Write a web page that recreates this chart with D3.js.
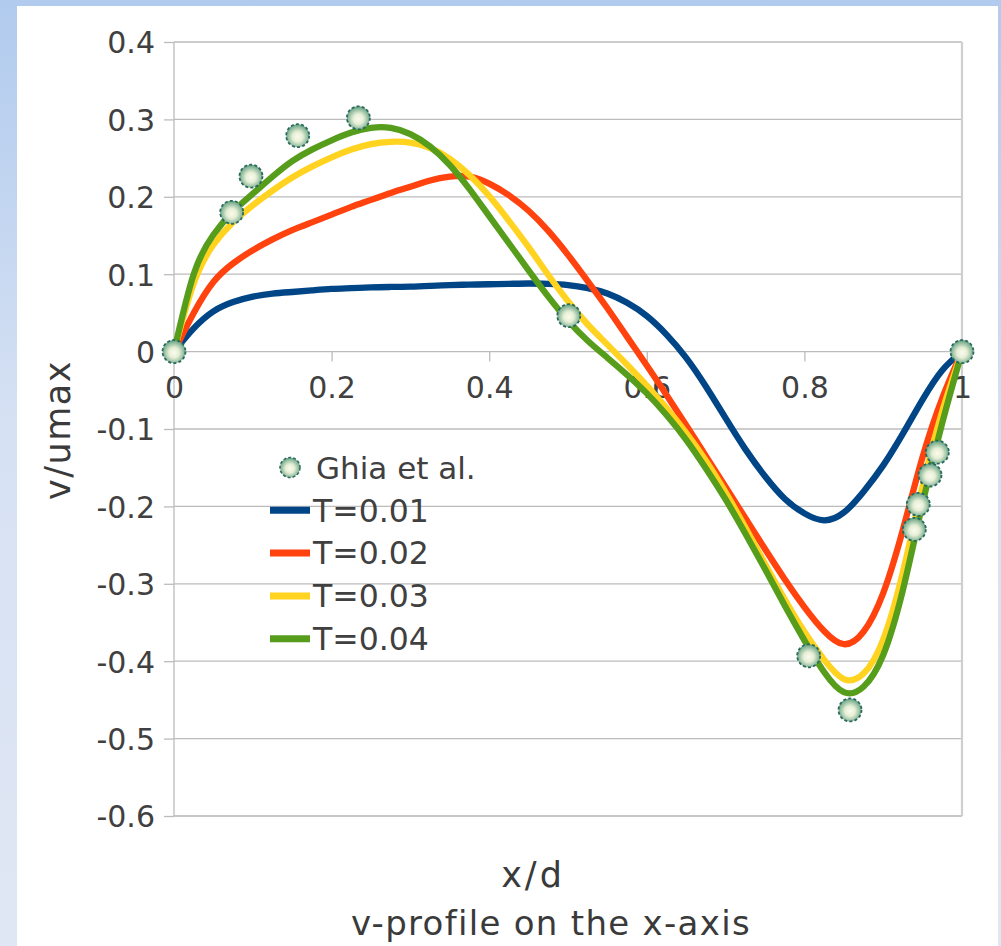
<!DOCTYPE html>
<html>
<head>
<meta charset="utf-8">
<script src="https://cdn.jsdelivr.net/npm/d3@7"></script>
<style>
  html, body { margin: 0; padding: 0; background: #ffffff; }
  svg { display: block; }
  text { font-family: "DejaVu Sans", Verdana, sans-serif; }
</style>
</head>
<body>
<svg id="chart" width="1001" height="946"></svg>
<script>
// ---------------- data ----------------
const yTicks = [0.4, 0.3, 0.2, 0.1, 0, -0.1, -0.2, -0.3, -0.4, -0.5, -0.6];
const yTickLabels = ["0.4", "0.3", "0.2", "0.1", "0", "-0.1", "-0.2", "-0.3", "-0.4", "-0.5", "-0.6"];
const xTicks = [0, 0.2, 0.4, 0.6, 0.8, 1];
const xTickLabels = ["0", "0.2", "0.4", "0.6", "0.8", "1"];

const seriesNames = ["T=0.01", "T=0.02", "T=0.03", "T=0.04"];
const seriesColors = ["#004586", "#ff420e", "#ffd320", "#579d1c"];

// x positions of the simulated profiles (x/d), every 0.025
const xSim = [0, 0.025, 0.05, 0.075, 0.1, 0.125, 0.15, 0.175, 0.2, 0.225, 0.25, 0.275, 0.3, 0.325, 0.35, 0.375, 0.4, 0.425, 0.45, 0.475, 0.5,
              0.525, 0.55, 0.575, 0.6, 0.625, 0.65, 0.675, 0.7, 0.725, 0.75, 0.775, 0.8, 0.825, 0.85, 0.875, 0.9, 0.925, 0.95, 0.975, 1];
const vT01 = [0, 0.030, 0.052, 0.064, 0.071, 0.075, 0.077, 0.079, 0.081, 0.082, 0.083, 0.0835, 0.084, 0.085, 0.086, 0.0865, 0.087, 0.0875, 0.088, 0.0875, 0.086,
              0.082, 0.075, 0.063, 0.046, 0.022, -0.008, -0.045, -0.086, -0.126, -0.161, -0.190, -0.209, -0.218, -0.208, -0.181, -0.147, -0.106, -0.062, -0.024, 0];
const vT02 = [0, 0.050, 0.090, 0.114, 0.131, 0.145, 0.157, 0.167, 0.177, 0.187, 0.196, 0.205, 0.213, 0.221, 0.226, 0.226, 0.217, 0.202, 0.182, 0.156, 0.125,
              0.091, 0.056, 0.019, -0.018, -0.056, -0.095, -0.135, -0.175, -0.215, -0.255, -0.294, -0.330, -0.361, -0.378, -0.362, -0.312, -0.230, -0.136, -0.060, 0];
const vT03 = [0, 0.088, 0.138, 0.167, 0.189, 0.208, 0.225, 0.239, 0.251, 0.261, 0.268, 0.271, 0.270, 0.263, 0.249, 0.228, 0.201, 0.169, 0.135, 0.099, 0.065,
              0.035, 0.009, -0.017, -0.044, -0.073, -0.105, -0.141, -0.182, -0.227, -0.274, -0.320, -0.362, -0.398, -0.423, -0.416, -0.372, -0.285, -0.174, -0.077, 0];
const vT04 = [0, 0.100, 0.151, 0.181, 0.204, 0.226, 0.246, 0.261, 0.273, 0.283, 0.289, 0.289, 0.281, 0.265, 0.241, 0.210, 0.175, 0.140, 0.105, 0.071, 0.040,
              0.014, -0.008, -0.030, -0.054, -0.082, -0.114, -0.151, -0.191, -0.235, -0.281, -0.328, -0.373, -0.414, -0.440, -0.433, -0.392, -0.308, -0.196, -0.092, 0];

const ghiaLabel = "Ghia et al.";
const xGhia = [0, 0.0732, 0.0977, 0.157, 0.234, 0.501, 0.8054, 0.8579, 0.9395, 0.9445, 0.9594, 0.9687, 1];
const vGhia = [0, 0.180, 0.2266, 0.279, 0.302, 0.0464, -0.393, -0.463, -0.2296, -0.1973, -0.1594, -0.130, 0];

const xTitle = "x/d";
const subTitle = "v-profile on the x-axis";
const yTitle = "v/umax";

// ---------------- drawing ----------------
const svg = d3.select("#chart");
const W = 1001, H = 946;
const defs = svg.append("defs");

const bg = defs.append("linearGradient").attr("id", "bgGrad")
  .attr("x1", 0).attr("y1", 0).attr("x2", 0).attr("y2", 1);
bg.append("stop").attr("offset", "0%").attr("stop-color", "#b1cbee");
bg.append("stop").attr("offset", "45%").attr("stop-color", "#d6e1f3");
bg.append("stop").attr("offset", "100%").attr("stop-color", "#e0e7f4");

const mg = defs.append("radialGradient").attr("id", "markGrad")
  .attr("cx", "50%").attr("cy", "55%").attr("r", "55%");
mg.append("stop").attr("offset", "0%").attr("stop-color", "#fbfbee");
mg.append("stop").attr("offset", "40%").attr("stop-color", "#e6efd6");
mg.append("stop").attr("offset", "100%").attr("stop-color", "#5f9e7e");

svg.append("rect").attr("x", 0).attr("y", 0).attr("width", W).attr("height", H).attr("fill", "url(#bgGrad)");
svg.append("rect").attr("x", 17).attr("y", 6).attr("width", 981).attr("height", H - 6).attr("fill", "#ffffff");

const x = d3.scaleLinear().domain([0, 1]).range([174, 962]);
const y = d3.scaleLinear().domain([-0.6, 0.4]).range([816, 42]);

// grid
svg.append("g").selectAll("line").data(yTicks).join("line")
  .attr("x1", x(0)).attr("x2", x(1))
  .attr("y1", d => y(d)).attr("y2", d => y(d))
  .attr("stroke", "#bcbcbc").attr("stroke-width", 1.3);

// frame
svg.append("line").attr("x1", x(1)).attr("x2", x(1)).attr("y1", y(0.4)).attr("y2", y(-0.6))
  .attr("stroke", "#cfcfcf").attr("stroke-width", 2.2);
svg.append("line").attr("x1", x(0)).attr("x2", x(1)).attr("y1", y(-0.6)).attr("y2", y(-0.6))
  .attr("stroke", "#c4c4c4").attr("stroke-width", 1.6);
svg.append("line").attr("x1", x(0)).attr("x2", x(0)).attr("y1", y(0.4)).attr("y2", y(-0.6))
  .attr("stroke", "#bcbcbc").attr("stroke-width", 1.3);

// y axis
const yAxis = d3.axisLeft(y).tickValues(yTicks).tickSize(10).tickPadding(9)
  .tickFormat((d, i) => yTickLabels[i]);
const gy = svg.append("g").attr("transform", `translate(${x(0)},0)`).call(yAxis);
gy.select(".domain").remove();
gy.selectAll(".tick line").attr("stroke", "#bcbcbc").attr("stroke-width", 1.3);
gy.selectAll(".tick text").attr("font-size", 30).attr("fill", "#404040")
  .attr("font-family", "DejaVu Sans").attr("dy", "0.36em");

// x axis
const xAxis = d3.axisBottom(x).tickValues(xTicks).tickSize(10).tickPadding(15)
  .tickFormat((d, i) => xTickLabels[i]);
const gx = svg.append("g").attr("transform", `translate(0,${y(0)})`).call(xAxis);
gx.select(".domain").remove();
gx.selectAll(".tick line").attr("stroke", "#bcbcbc").attr("stroke-width", 1.3);
gx.selectAll(".tick text").attr("font-size", 30).attr("fill", "#404040")
  .attr("font-family", "DejaVu Sans");

// lines (smoothed spline through the simulated points)
const seriesV = [vT01, vT02, vT03, vT04];
const line = d3.line().x(d => x(d[0])).y(d => y(d[1])).curve(d3.curveNatural);
seriesV.forEach((vs, k) => {
  const pts = xSim.map((xv, i) => [xv, vs[i]]);
  svg.append("path").datum(pts).attr("d", line)
    .attr("fill", "none").attr("stroke", seriesColors[k])
    .attr("stroke-width", 6.3).attr("stroke-linejoin", "round").attr("stroke-linecap", "round");
});

// markers
const ghia = xGhia.map((xv, i) => [xv, vGhia[i]]);
svg.append("g").selectAll("circle").data(ghia).join("circle")
  .attr("cx", d => x(d[0])).attr("cy", d => y(d[1])).attr("r", 11.5)
  .attr("fill", "url(#markGrad)").attr("stroke", "#2a6a5c")
  .attr("stroke-width", 1.8).attr("stroke-dasharray", "3,2.2");

// legend
const lg = svg.append("g");
const rowY0 = 467.5, rowH = 42.8;
lg.append("circle").attr("cx", 290).attr("cy", rowY0).attr("r", 10)
  .attr("fill", "url(#markGrad)").attr("stroke", "#2a6a5c").attr("stroke-width", 1.5)
  .attr("stroke-dasharray", "3,2");
lg.append("text").attr("x", 316).attr("y", rowY0).attr("dy", "0.36em")
  .attr("font-size", 31).attr("fill", "#404040").text(ghiaLabel);
seriesNames.forEach((name, k) => {
  const yy = rowY0 + rowH * (k + 1);
  lg.append("line").attr("x1", 270).attr("x2", 310).attr("y1", yy).attr("y2", yy)
    .attr("stroke", seriesColors[k]).attr("stroke-width", 7);
  lg.append("text").attr("x", 313).attr("y", yy).attr("dy", "0.36em")
    .attr("font-size", 31.5).attr("fill", "#404040").text(name);
});

// titles
svg.append("text").attr("x", 533).attr("y", 887).attr("text-anchor", "middle")
  .attr("font-size", 35).attr("letter-spacing", 3).attr("fill", "#3a3a3a").text(xTitle);
svg.append("text").attr("x", 551).attr("y", 935).attr("text-anchor", "middle")
  .attr("font-size", 34).attr("letter-spacing", 1.3).attr("fill", "#3a3a3a").text(subTitle);
svg.append("text").attr("transform", "translate(70,430) rotate(-90)").attr("text-anchor", "middle")
  .attr("font-size", 35).attr("letter-spacing", 1.5).attr("fill", "#3a3a3a").text(yTitle);
</script>
</body>
</html>
